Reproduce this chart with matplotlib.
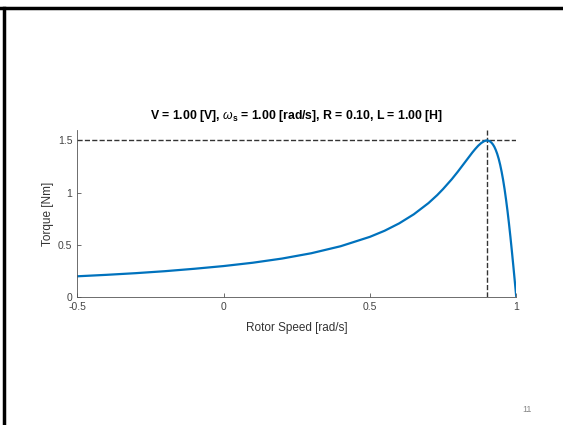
import matplotlib
matplotlib.use("Agg")
import matplotlib.pyplot as plt
from matplotlib.lines import Line2D

plt.rcParams['font.family'] = ['Liberation Sans', 'DejaVu Sans']
plt.rcParams['mathtext.fontset'] = 'custom'
plt.rcParams['mathtext.it'] = 'Liberation Sans:italic'
plt.rcParams['mathtext.rm'] = 'Liberation Sans:bold'

# rotor speed [rad/s] and torque [Nm]
speed = [-0.5, -0.4, -0.3, -0.2, -0.1, 0.0, 0.1, 0.2, 0.3, 0.4, 0.5, 0.55,
         0.6, 0.65, 0.7, 0.73, 0.75, 0.78, 0.8, 0.82, 0.84, 0.85, 0.86, 0.87,
         0.88, 0.89, 0.895, 0.9, 0.905, 0.91, 0.915, 0.92, 0.925, 0.93, 0.935,
         0.94, 0.945, 0.95, 0.955, 0.96, 0.965, 0.97, 0.975, 0.98, 0.985,
         0.99, 0.995, 1.0]
torque = [0.199, 0.213, 0.229, 0.248, 0.271, 0.297, 0.329, 0.369, 0.420,
          0.487, 0.577, 0.635, 0.706, 0.793, 0.900, 0.977, 1.035, 1.130,
          1.200, 1.274, 1.348, 1.385, 1.419, 1.450, 1.475, 1.493, 1.498,
          1.500, 1.498, 1.492, 1.480, 1.463, 1.440, 1.409, 1.371, 1.324,
          1.267, 1.200, 1.123, 1.035, 0.935, 0.826, 0.706, 0.577, 0.440,
          0.297, 0.150, 0.0]
peak_speed = 0.9
peak_torque = 1.5
title = r'V = 1.00 [V], $\omega_\mathrm{s}$ = 1.00 [rad/s], R = 0.10, L = 1.00 [H]'

fig = plt.figure(figsize=(5.63, 4.25), dpi=100)
ax = fig.add_axes([0.137, 0.301, 0.780, 0.393])

ax.plot([-0.5, 1.0], [peak_torque, peak_torque], '--', color='#333333', lw=1.0)
ax.plot([peak_speed, peak_speed], [0, 1.6], '--', color='#333333', lw=1.0)
ax.plot(speed, torque, color='#0072BD', lw=1.6)

ax.set_xlim(-0.5, 1.0)
ax.set_ylim(0, 1.6)
ax.set_xticks([-0.5, 0, 0.5, 1])
ax.set_xticklabels(['-0.5', '0', '0.5', '1'])
ax.set_yticks([0, 0.5, 1, 1.5])
ax.set_yticklabels(['0', '0.5', '1', '1.5'])
ax.spines['top'].set_visible(False)
ax.spines['right'].set_visible(False)
for s in ['left', 'bottom']:
    ax.spines[s].set_color('#555555')
    ax.spines[s].set_linewidth(0.6)
ax.tick_params(direction='in', length=3, width=0.6, colors='#555555',
               labelsize=7.5, labelcolor='#444444')
ax.set_xlabel('Rotor Speed [rad/s]', fontsize=8.5, color='#333333', labelpad=7)
ax.set_ylabel('Torque [Nm]', fontsize=8.5, color='#333333', labelpad=3)
ax.set_title(title, fontsize=8.8, fontweight='bold', pad=8)

# slide frame and page number
fig.add_artist(Line2D([0, 1], [0.981, 0.981], color='black', lw=2.5,
                      transform=fig.transFigure))
fig.add_artist(Line2D([0.0075, 0.0075], [0, 0.981], color='black', lw=2.5,
                      transform=fig.transFigure))
fig.text(0.936, 0.03, '11', fontsize=6.5, color='#888888', ha='center')

fig.savefig('out.png', dpi=100)
